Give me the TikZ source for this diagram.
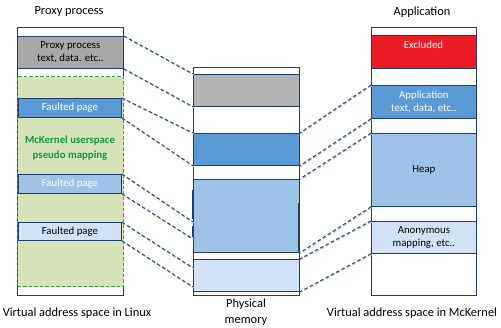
\documentclass[tikz,border=0pt]{standalone}
\usepackage{fontspec}
\setmainfont{Carlito}
\definecolor{navy}{HTML}{1F3F6E}
\definecolor{lineblue}{HTML}{2A4F7F}
\definecolor{proxygray}{HTML}{A8A8A8}
\definecolor{memgray}{HTML}{B3B3B3}
\definecolor{pagedark}{HTML}{5B9BD5}
\definecolor{pagemid}{HTML}{9DC3E6}
\definecolor{pagepale}{HTML}{D2E2F4}
\definecolor{pseudofill}{HTML}{D6E3B8}
\definecolor{pseudoline}{HTML}{2EA84E}
\definecolor{pseudotext}{HTML}{0E9A3A}
\definecolor{exclred}{HTML}{ED1C24}
\usetikzlibrary{positioning}

\tikzset{
  region/.style={draw=navy, line width=0.8pt, anchor=north west, inner sep=0pt,
    align=center, font=\fontsize{10.8}{13}\selectfont},
  mapline/.style={draw=lineblue, line width=1.1pt, dash pattern=on 3.5pt off 2.5pt,
    preaction={draw=black!22, line width=1.1pt, dash pattern=on 3.5pt off 2.5pt,
      transform canvas={xshift=0.7pt, yshift=-0.9pt}}},
  caption/.style={font=\fontsize{12.4}{15.5}\selectfont, align=center}
}

\begin{document}
\begin{tikzpicture}[x=1pt, y=-1pt]
\useasboundingbox (0,0) rectangle (501,327);

% Proxy process (Linux side)
\node[region, fill=white, minimum width=106, minimum height=268] (lbox) at (17,27) {};
\node[region, fill=proxygray, minimum width=106, minimum height=32] (lgray) at (17,36) {Proxy process\\text, data. etc..};
\node[region, draw=pseudoline, line width=1.2pt, dash pattern=on 3.5pt off 2pt, fill=pseudofill, minimum width=106, minimum height=210] (lpseudo) at (17,76) {};
\node[font=\fontsize{10.8}{15}\selectfont\bfseries, text=pseudotext, align=center] (ltext) at (70,148) {McKernel userspace\\pseudo mapping};
\node[region, fill=pagedark, text=white, minimum width=103, minimum height=19] (lpage1) at (18,98) {Faulted page};
\node[region, fill=pagemid, text=white, minimum width=103, minimum height=19] (lpage2) at (18,174) {Faulted page};
\node[region, fill=pagepale, minimum width=103, minimum height=18] (lpage3) at (18,222) {Faulted page};

% Physical memory
\node[region, fill=white, minimum width=106, minimum height=228] (mbox) at (193,67) {};
\node[region, fill=memgray, minimum width=106, minimum height=32] (mgray) at (193,74) {};
\node[region, fill=pagedark, minimum width=106, minimum height=32] (mdark) at (193,133) {};
\node[region, fill=pagemid, minimum width=106, minimum height=73] (mmid) at (193,179) {};
\node[region, fill=pagepale, minimum width=106, minimum height=32] (mpale) at (193,259) {};
\draw[navy, line width=2.2pt] (193,190) -- (193,219) (193,226) -- (193,237);
\draw[navy, line width=1.6pt] (299,203) -- (299,252);

% Application (McKernel side)
\node[region, fill=white, minimum width=105, minimum height=268] (rbox) at (371,27) {};
\node[region, fill=exclred, minimum width=105, minimum height=33] (rexcl) at (371,35) {};
\node[font=\fontsize{10.8}{13}\selectfont, text=white] (rexcltext) at (423.5,45) {Excluded};
\node[region, fill=pagedark, text=white, minimum width=105, minimum height=33] (rapp) at (371,85) {Application\\text, data, etc..};
\node[region, fill=pagemid, minimum width=105, minimum height=73] (rheap) at (371,133) {Heap};
\node[region, fill=pagepale, minimum width=105, minimum height=32] (ranon) at (371,221) {Anonymous\\mapping, etc..};

% titles and captions
\node[caption] (ltitle) at (69,12) {Proxy process};
\node[caption] (rtitle) at (422,12) {Application};
\node[caption] (lcap) at (77,313) {Virtual address space in Linux};
\node[caption] (mcap) at (246,312) {Physical\\memory};
\node[caption] (rcap) at (412,313) {Virtual address space in McKernel};

% mapping lines, Linux side
\coordinate (m2a) at (193,222);
\coordinate (m2b) at (193,239);
\coordinate (m3a) at (193,268);
\coordinate (m3b) at (193,287);
\draw[mapline] (lgray.north east) -- (mgray.north west);
\draw[mapline] (lgray.south east) -- (mgray.south west);
\draw[mapline] (lpage1.north east) -- (mdark.north west);
\draw[mapline] (lpage1.south east) -- (mdark.south west);
\draw[mapline] (lpage2.north east) -- (m2a);
\draw[mapline] (lpage2.south east) -- (m2b);
\draw[mapline] (lpage3.north east) -- (m3a);
\draw[mapline] (lpage3.south east) -- (m3b);

% mapping lines, McKernel side
\draw[mapline] (rapp.north west) -- (mdark.north east);
\draw[mapline] (rapp.south west) -- (mdark.south east);
\draw[mapline] (rheap.north west) -- (mmid.north east);
\draw[mapline] (rheap.south west) -- (mmid.south east);
\draw[mapline] (ranon.north west) -- (mpale.north east);
\draw[mapline] (ranon.south west) -- (mpale.south east);
\end{tikzpicture}
\end{document}
